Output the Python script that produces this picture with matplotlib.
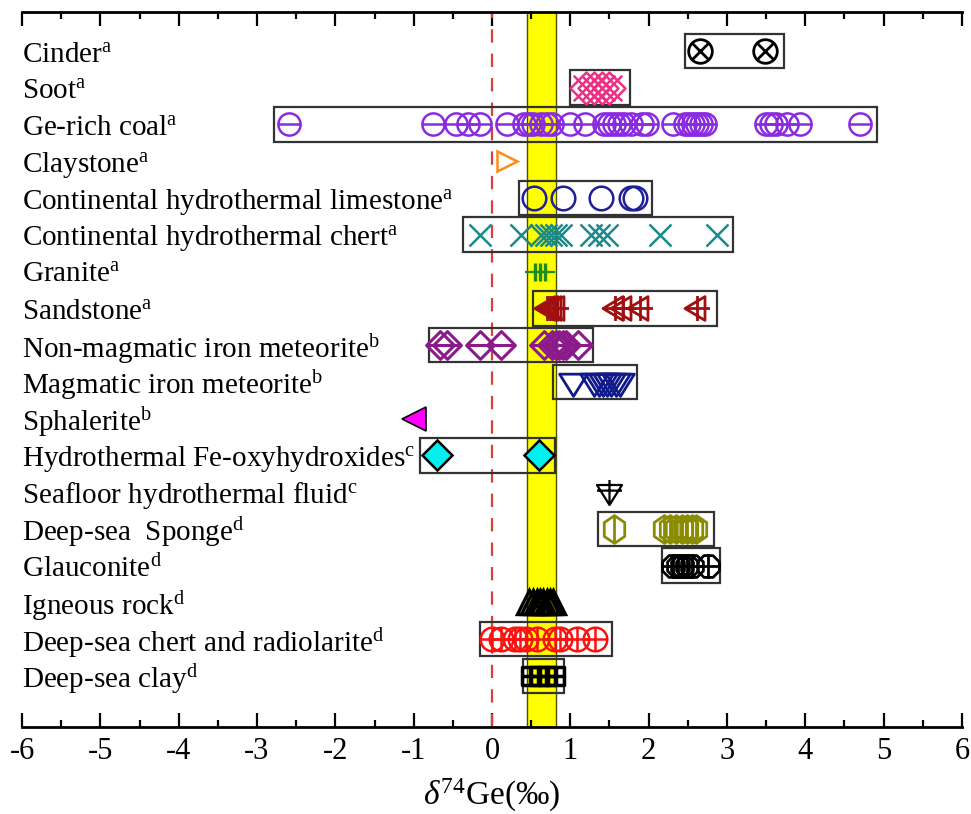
import numpy as np
import matplotlib
matplotlib.use("Agg")
import matplotlib.pyplot as plt
from matplotlib.path import Path
from matplotlib.patches import Rectangle

plt.rcParams['font.family'] = 'Liberation Serif'
plt.rcParams['mathtext.fontset'] = 'custom'
plt.rcParams['mathtext.rm'] = 'Liberation Serif'
plt.rcParams['mathtext.it'] = 'Liberation Serif:italic'

# sample groups, top to bottom
names = ["Cinder", "Soot", "Ge-rich coal", "Claystone", "Continental hydrothermal limestone",
         "Continental hydrothermal chert", "Granite", "Sandstone", "Non-magmatic iron meteorite",
         "Magmatic iron meteorite", "Sphalerite", "Hydrothermal Fe-oxyhydroxides",
         "Seafloor hydrothermal fluid", "Deep-sea  Sponge", "Glauconite", "Igneous rock",
         "Deep-sea chert and radiolarite", "Deep-sea clay"]
refs = ["a", "a", "a", "a", "a", "a", "a", "a", "b", "b", "b", "c", "c", "d", "d", "d", "d", "d"]

# d74Ge values (permil)
cinder = [2.66, 3.49]
soot = [1.20, 1.30, 1.40, 1.50]
coal = [-2.59, -0.75, -0.46, -0.31, -0.15, 0.19, 0.41, 0.47, 0.52, 0.62, 0.70, 0.77,
        0.99, 1.19, 1.43, 1.50, 1.56, 1.62, 1.68, 1.77, 1.92, 1.98, 2.31, 2.47, 2.52,
        2.57, 2.62, 2.67, 2.72, 3.50, 3.56, 3.63, 3.77, 3.93, 4.70]
claystone = [0.19]
limestone = [0.53, 0.90, 1.39, 1.77, 1.83]
chert = [-0.15, 0.37, 0.62, 0.69, 0.75, 0.82, 0.88, 1.26, 1.37, 1.47, 2.14, 2.87]
granite = [0.55, 0.61, 0.68]
sandstone = [0.70, 0.74, 0.78, 0.82, 1.57, 1.67, 1.89, 2.62]
nonmag = [-0.66, -0.58, -0.15, 0.12, 0.66, 0.76, 0.82, 0.86, 0.90, 0.95, 1.10]
magmatic = [1.03, 1.30, 1.36, 1.42, 1.47, 1.52, 1.58, 1.64]
sphalerite = [-1.0]
fe_oxy = [-0.70, 0.60]
seafloor = [1.50]
sponge = [1.56, 2.19, 2.27, 2.35, 2.42, 2.49, 2.55, 2.61]
glauconite = [2.31, 2.37, 2.43, 2.49, 2.55, 2.76]
igneous = [0.47, 0.52, 0.57, 0.61, 0.65, 0.70, 0.74, 0.78]
chert_rad = [0.0, 0.12, 0.29, 0.36, 0.44, 0.57, 0.80, 0.87, 1.08, 1.31]
clay = [0.50, 0.60, 0.70, 0.80]

# range boxes (None = no box)
boxes = [(2.46, 3.73), (1.0, 1.76), (-2.78, 4.91), None, (0.35, 2.04), (-0.37, 3.08),
         None, (0.52, 2.87), (-0.81, 1.29), (0.78, 1.85), None, (-0.92, 0.81), None,
         (1.35, 2.83), (2.17, 2.91), None, (-0.15, 1.53), (0.39, 0.92)]

band = (0.45, 0.82)  # bulk silicate earth range


# marker shapes
M, L = Path.MOVETO, Path.LINETO
def poly(pts):
    pts = list(pts) + [pts[0]]
    return Path(pts, [M] + [L] * (len(pts) - 2) + [Path.CLOSEPOLY])
def seg(*pairs):
    v, c = [], []
    for a, b in pairs:
        v += [a, b]
        c += [M, L]
    return Path(v, c)
def comp(*p):
    return Path.make_compound_path(*p)

circ = Path.unit_circle()
hl = seg(((-1, 0), (1, 0)))
vl = seg(((0, -1), (0, 1)))
k = 0.707
xx = seg(((-k, -k), (k, k)), ((-k, k), (k, -k)))
diamond = poly([(0, 1), (1, 0), (0, -1), (-1, 0)])
tri_left = poly([(-1, 0), (0.6, 0.95), (0.6, -0.95)])
tri_down = poly([(-1, 0.6), (1, 0.6), (0, -1)])
hexa = poly([(0.85 * np.cos(a), np.sin(a)) for a in np.radians(np.arange(90, 450, 60))])
octa = poly([(np.cos(a), np.sin(a)) for a in np.radians(np.arange(22.5, 360, 45))])
square = poly([(-1, -1), (1, -1), (1, 1), (-1, 1)])

groups = [
    (cinder, comp(circ, xx), dict(ms=17, mec='black', mfc='none', mew=2)),
    (soot, comp(diamond, seg(((-0.8, -0.8), (0.8, 0.8)), ((-0.8, 0.8), (0.8, -0.8)))),
     dict(ms=23, mec='#ee2f86', mfc='none', mew=1.8)),
    (coal, comp(circ, hl), dict(ms=16, mec='#8a2be2', mfc='none', mew=1.8)),
    (claystone, '>', dict(ms=15, mec='#ff8c1a', mfc='none', mew=1.8)),
    (limestone, 'o', dict(ms=17, mec='#1f1f99', mfc='none', mew=1.8)),
    (chert, 'x', dict(ms=16, mec='#1a8a8a', mew=1.8)),
    (granite, '_', dict(ms=14, mec='#1e8b1e', mew=1.6)),
    (granite, '|', dict(ms=13, mec='#1e8b1e', mew=2.4)),
    (sandstone, comp(tri_left, hl, vl), dict(ms=18, mec='#a01010', mfc='none', mew=2)),
    (nonmag, comp(diamond, hl), dict(ms=20, mec='#8b1a8b', mfc='none', mew=2.2)),
    (magmatic, tri_down, dict(ms=20, mec='#101a8a', mfc='none', mew=2)),
    (sphalerite, '<', dict(ms=17, mec='black', mfc='#ff00ff', mew=1.2)),
    (fe_oxy, 'D', dict(ms=15, mec='black', mfc='#00f0f0', mew=1.8)),
    (seafloor, comp(tri_down, seg(((-1, 0.15), (1, 0.15)), ((0, -1), (0, 1.0)))),
     dict(ms=18, mec='black', mfc='none', mew=1.6)),
    (sponge, comp(hexa, vl), dict(ms=20, mec='#8b8b00', mfc='none', mew=2)),
    (glauconite, comp(octa, hl, vl), dict(ms=17, mec='black', mfc='none', mew=2)),
    (igneous, '^', dict(ms=17, mec='black', mfc='none', mew=2.4)),
    (chert_rad, comp(circ, hl, vl), dict(ms=17, mec='#ff1010', mfc='none', mew=1.8)),
    (clay, comp(square, hl, vl), dict(ms=13, mec='black', mfc='none', mew=2.5)),
]
# granite appears twice (line + bars), both on the same row
rows = [18, 17, 16, 15, 14, 13, 12, 12, 11, 10, 9, 8, 7, 6, 5, 4, 3, 2, 1]

n = len(names)
ys = np.arange(n, 0, -1)  # 18 at top ... 1 at bottom

fig = plt.figure(figsize=(9.71, 8.14), dpi=100)
ax = fig.add_axes([0.0227, 0.1069, 0.968, 0.8784])

ax.axvspan(band[0], band[1], facecolor='#ffff00', edgecolor='#4d4d00', lw=1.0, zorder=1)
ax.axvline(0, color='#d9403a', ls=(0, (6, 5)), lw=1.6, zorder=2)

for y, b in zip(ys, boxes):
    if b is not None:
        ax.add_patch(Rectangle((b[0], y - 0.47), b[1] - b[0], 0.94, fill=False,
                               edgecolor='#333333', lw=1.6, zorder=3))

for y, (vals, mk, st) in zip(rows, groups):
    ax.plot(vals, [y] * len(vals), ls='none', marker=mk, zorder=4, **st)

for y, nm, r in zip(ys, names, refs):
    ax.text(-6, y - 0.1, nm + "$^{\\mathrm{%s}}$" % r, fontsize=21, ha='left',
            va='center', zorder=5)

ax.set_xlim(-6, 6)
ax.set_ylim(-0.39, 19.06)
ax.set_xticks(np.arange(-6, 7, 1))
ax.set_xticklabels([str(v) for v in range(-6, 7)])
ax.set_xticks(np.arange(-5.5, 6, 1), minor=True)
ax.set_yticks([])
ax.spines['left'].set_visible(False)
ax.spines['right'].set_visible(False)
ax.spines['top'].set_linewidth(2)
ax.spines['bottom'].set_linewidth(2)
ax.tick_params(axis='x', which='both', direction='in', top=True, bottom=True,
               width=1.6, labelsize=22, pad=7)
ax.tick_params(axis='x', which='major', length=10)
ax.tick_params(axis='x', which='minor', length=5)
ax.set_xlabel('$\\delta^{74}$Ge(‰)', fontsize=24, labelpad=8)

fig.savefig('out.png', dpi=100)
